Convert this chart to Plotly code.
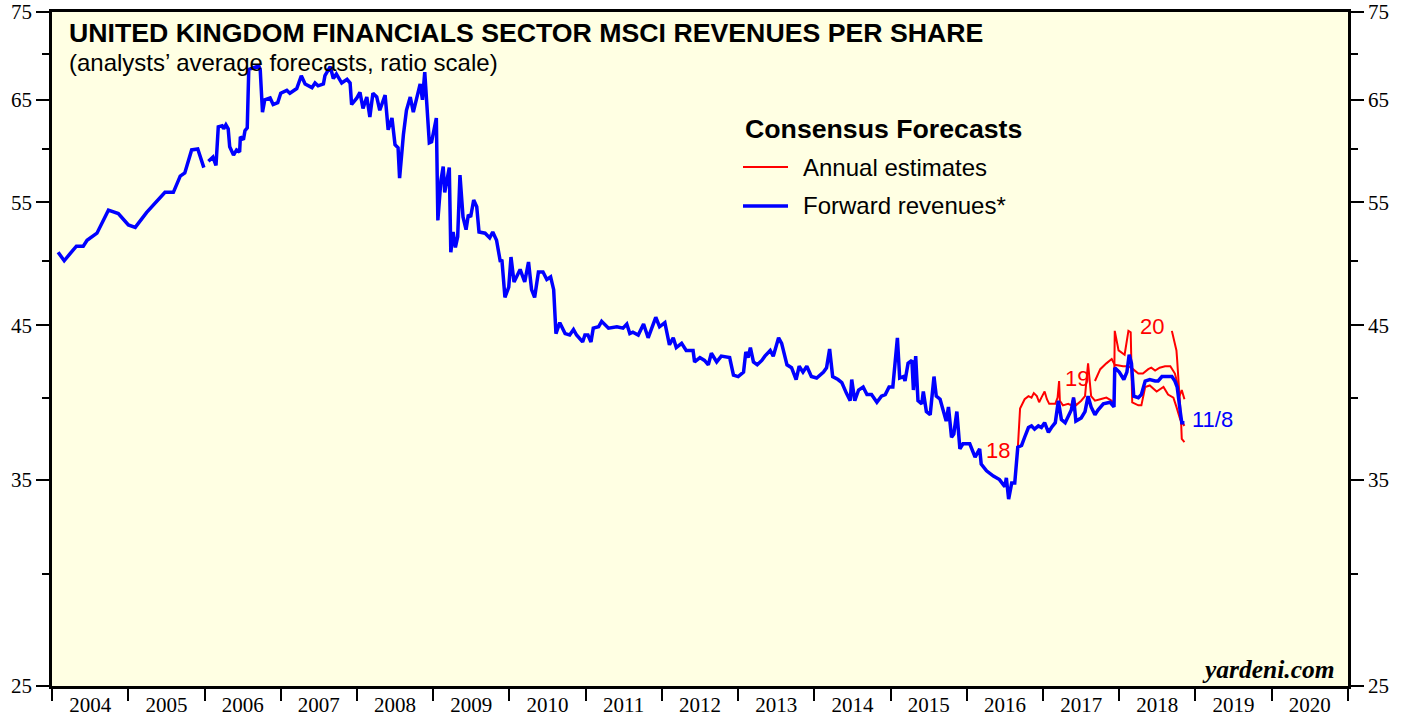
import datetime as dt
import math
import plotly.graph_objects as go

# ---------------- data (decimal years, revenues per share) ----------------
fwd_t = [2004.08, 2004.16, 2004.24, 2004.32, 2004.41, 2004.46, 2004.59, 2004.66, 2004.74, 2004.87,
         2005.00, 2005.09, 2005.24, 2005.48, 2005.59, 2005.68, 2005.74, 2005.83, 2005.91, 2005.99,
         2006.02,
         2006.05, 2006.11, 2006.15, 2006.18, 2006.23, 2006.25, 2006.28, 2006.31, 2006.33, 2006.38,
         2006.42, 2006.46, 2006.47, 2006.51, 2006.53, 2006.56, 2006.58, 2006.64, 2006.71, 2006.73,
         2006.76, 2006.79, 2006.86, 2006.90, 2006.96, 2007.00, 2007.08, 2007.12, 2007.21, 2007.27,
         2007.32, 2007.41, 2007.45, 2007.49, 2007.56, 2007.58, 2007.65, 2007.69, 2007.73, 2007.80,
         2007.87, 2007.91, 2007.93, 2008.00, 2008.04, 2008.08, 2008.13, 2008.17, 2008.21, 2008.26,
         2008.30, 2008.37, 2008.41, 2008.46, 2008.50, 2008.54, 2008.56, 2008.61, 2008.65, 2008.70,
         2008.74, 2008.83, 2008.86, 2008.89, 2008.95, 2008.98, 2009.04, 2009.06, 2009.10, 2009.13,
         2009.15, 2009.21, 2009.23, 2009.26, 2009.29, 2009.32, 2009.35, 2009.39, 2009.43, 2009.46,
         2009.49, 2009.53, 2009.57, 2009.60, 2009.68, 2009.74, 2009.78, 2009.83, 2009.88, 2009.90,
         2009.94, 2009.99, 2010.02, 2010.06, 2010.14, 2010.20, 2010.25, 2010.29, 2010.33, 2010.38,
         2010.44, 2010.49, 2010.54, 2010.58, 2010.61, 2010.66, 2010.73, 2010.79, 2010.84, 2010.88,
         2010.96, 2010.99, 2011.03, 2011.07, 2011.10, 2011.17, 2011.21, 2011.30, 2011.41, 2011.49,
         2011.54, 2011.58, 2011.62, 2011.69, 2011.76, 2011.82, 2011.87, 2011.92, 2011.97, 2012.04,
         2012.10, 2012.15, 2012.19, 2012.26, 2012.32, 2012.41, 2012.43, 2012.50, 2012.56, 2012.61,
         2012.65, 2012.72, 2012.78, 2012.89, 2012.94, 2013.00, 2013.07, 2013.10, 2013.13, 2013.16,
         2013.20, 2013.25, 2013.31, 2013.35, 2013.42, 2013.46, 2013.53, 2013.57, 2013.64, 2013.70,
         2013.76, 2013.80, 2013.85, 2013.90, 2013.96, 2014.03, 2014.12, 2014.16, 2014.20, 2014.24,
         2014.31, 2014.36, 2014.42, 2014.47, 2014.49, 2014.53, 2014.58, 2014.64, 2014.69, 2014.75,
         2014.82, 2014.88, 2014.93, 2014.98, 2015.03, 2015.09, 2015.12, 2015.17, 2015.19, 2015.23,
         2015.28, 2015.30, 2015.33, 2015.36, 2015.41, 2015.43, 2015.47, 2015.52, 2015.57, 2015.60,
         2015.65, 2015.69, 2015.73, 2015.76, 2015.80, 2015.83, 2015.87, 2015.91, 2015.95, 2016.04,
         2016.11, 2016.17, 2016.19, 2016.26, 2016.35, 2016.43, 2016.50, 2016.52, 2016.55, 2016.59,
         2016.63, 2016.67, 2016.72, 2016.76, 2016.81, 2016.85, 2016.89, 2016.94, 2016.98, 2017.02,
         2017.07, 2017.11, 2017.16, 2017.20, 2017.24, 2017.29, 2017.33, 2017.37, 2017.40, 2017.43,
         2017.50, 2017.55, 2017.59, 2017.63, 2017.68, 2017.72, 2017.79, 2017.88, 2017.93, 2017.94,
         2018.00, 2018.06, 2018.10, 2018.13, 2018.16, 2018.19, 2018.25, 2018.29, 2018.34, 2018.40,
         2018.47, 2018.51, 2018.56, 2018.62, 2018.69, 2018.73, 2018.76, 2018.80, 2018.82, 2018.855]
fwd_v = [50.7, 50.0, 50.6, 51.2, 51.2, 51.7, 52.3, 53.2, 54.3, 54.0,
         53.0, 52.8, 54.1, 55.9, 55.9, 57.4, 57.7, 59.9, 60.0, 58.2,
         None,
         58.8, 59.2, 58.4, 62.2, 62.3, 62.0, 62.4, 62.0, 60.2, 59.4,
         59.9, 59.7, 61.2, 60.9, 61.8, 62.1, 68.3, 68.5, 68.7, 68.3,
         63.7, 65.0, 65.2, 64.5, 64.7, 65.7, 66.0, 65.7, 66.2, 67.6,
         66.7, 66.3, 66.8, 66.5, 66.7, 67.6, 68.6, 67.3, 67.8, 66.8,
         67.2, 66.8, 64.5, 65.2, 65.8, 64.1, 65.3, 63.2, 65.7, 65.3,
         63.9, 65.5, 61.9, 63.1, 60.4, 60.1, 57.2, 61.4, 63.9, 65.3,
         63.7, 66.7, 65.0, 68.0, 60.6, 60.7, 63.1, 53.4, 57.0, 58.3,
         55.9, 58.2, 50.7, 52.4, 51.1, 52.0, 57.5, 53.7, 52.6, 53.9,
         53.7, 55.2, 54.6, 52.4, 52.3, 51.9, 52.4, 51.7, 49.9, 50.1,
         47.1, 47.9, 50.3, 48.3, 49.3, 48.3, 49.9, 47.7, 47.1, 49.1,
         49.1, 48.5, 48.7, 47.7, 44.4, 45.2, 44.4, 44.3, 44.7, 44.3,
         43.8, 44.3, 44.3, 43.8, 44.8, 44.9, 45.3, 44.8, 44.9, 44.8,
         45.1, 44.4, 44.5, 44.3, 45.1, 44.1, 44.8, 45.6, 44.9, 45.2,
         43.6, 44.1, 43.4, 43.7, 43.2, 43.2, 42.4, 42.7, 42.5, 42.2,
         43.0, 42.4, 42.8, 42.7, 41.5, 41.4, 41.7, 43.1, 42.7, 43.4,
         42.4, 42.2, 42.5, 42.8, 43.2, 42.8, 44.1, 43.7, 42.2, 42.0,
         41.2, 42.1, 41.7, 42.1, 41.4, 41.3, 41.7, 42.0, 43.3, 41.4,
         41.2, 41.0, 40.3, 39.8, 41.2, 39.8, 40.5, 40.7, 40.2, 40.2,
         39.7, 40.1, 40.2, 40.7, 40.7, 44.1, 41.3, 41.4, 41.1, 42.3,
         42.5, 40.5, 42.8, 39.8, 39.6, 40.4, 39.1, 38.9, 41.4, 40.1,
         39.9, 39.1, 38.5, 39.4, 37.5, 37.7, 39.1, 36.8, 37.1, 37.1,
         36.3, 36.8, 35.9, 35.5, 35.2, 35.0, 34.6, 35.1, 33.9, 34.8,
         34.8, 36.9, 37.0, 37.5, 38.1, 38.2, 38.0, 38.2, 38.1, 38.4,
         37.8, 38.1, 38.4, 39.8, 38.6, 38.4, 38.8, 39.2, 40.0, 38.5,
         38.7, 39.1, 40.1, 39.4, 38.9, 39.2, 39.6, 39.7, 39.4, 42.0,
         41.7, 41.2, 41.7, 42.9, 42.3, 40.1, 40.0, 40.2, 41.1, 41.2,
         41.1, 41.1, 41.4, 41.4, 41.4, 41.1, 40.7, 39.1, 38.4, 38.4]

est18_t = [2016.67, 2016.70, 2016.76, 2016.81, 2016.85, 2016.88, 2016.92, 2016.95, 2016.98, 2017.02,
           2017.05, 2017.08, 2017.16, 2017.19, 2017.21, 2017.22, 2017.26, 2017.33, 2017.37, 2017.40,
           2017.43, 2017.50, 2017.55, 2017.59, 2017.63, 2017.68, 2017.75, 2017.83, 2017.90, 2017.93,
           2017.94, 2017.99, 2018.07, 2018.12, 2018.15, 2018.17, 2018.25, 2018.29, 2018.34, 2018.40,
           2018.49, 2018.58, 2018.64, 2018.71, 2018.75, 2018.80, 2018.855]
est18_v = [36.8, 39.3, 39.9, 40.1, 40.0, 40.3, 40.1, 39.7, 40.0, 40.4,
           39.9, 39.6, 39.6, 40.0, 41.1, 39.8, 39.5, 39.6, 39.5, 40.0,
           39.5, 39.8, 40.1, 42.3, 40.1, 39.8, 39.9, 40.0, 39.8, 39.5,
           44.6, 43.2, 42.9, 44.6, 44.5, 39.7, 39.5, 39.5, 40.7, 40.8,
           40.4, 40.7, 40.2, 40.0, 39.4, 38.6, 38.2]

est19_t = [2017.68, 2017.75, 2017.83, 2017.90, 2017.94, 2018.05, 2018.12, 2018.18, 2018.25, 2018.31,
           2018.38, 2018.42, 2018.47, 2018.53, 2018.60, 2018.67, 2018.73, 2018.76, 2018.79, 2018.82,
           2018.855]
est19_v = [41.1, 41.9, 42.3, 42.6, 42.2, 42.1, 42.1, 41.9, 41.6, 41.6,
           41.9, 42.0, 41.8, 42.0, 42.1, 42.1, 41.6, 41.0, 40.1, 40.5,
           39.9]

est20_t = [2018.69, 2018.73, 2018.75, 2018.76, 2018.78, 2018.79, 2018.81, 2018.82, 2018.855]
est20_v = [44.6, 43.6, 43.2, 42.5, 41.0, 39.6, 38.6, 37.4, 37.2]

y_major = [25, 35, 45, 55, 65, 75]
y_minor = [30, 40, 50, 60, 70]


def to_date(t):
    y = int(t)
    return dt.datetime(y, 1, 1) + dt.timedelta(days=(t - y) * 365.25)


def dates(ts):
    return [to_date(t) for t in ts]


RED = "#FF0000"
BLUE = "#0000FF"
BG = "#FFFFE3"

fig = go.Figure()
for ts, vs in [(est18_t, est18_v), (est19_t, est19_v), (est20_t, est20_v)]:
    fig.add_trace(go.Scatter(x=dates(ts), y=vs, mode="lines",
                             line=dict(color=RED, width=2), showlegend=False,
                             hoverinfo="skip"))
fig.add_trace(go.Scatter(x=dates(fwd_t), y=fwd_v, mode="lines", connectgaps=False,
                         line=dict(color=BLUE, width=3.5), showlegend=False))
# invisible trace to activate right-hand axis
fig.add_trace(go.Scatter(x=dates(fwd_t), y=fwd_v, mode="lines", yaxis="y2",
                         line=dict(width=0), opacity=0, showlegend=False,
                         hoverinfo="skip"))

yr = [math.log10(25), math.log10(75)]
serif = "Liberation Serif, Times New Roman, serif"
tickfont = dict(family=serif, size=21, color="black")

yaxis_common = dict(type="log", range=yr,
                    tickvals=y_major, ticktext=[str(v) for v in y_major],
                    ticks="outside", ticklen=13, tickwidth=1.5, tickcolor="black",
                    minor=dict(tickvals=y_minor, ticks="outside", ticklen=7,
                               tickwidth=1.5, tickcolor="black", showgrid=False),
                    showline=True, linecolor="black", linewidth=2.5,
                    showgrid=False, zeroline=False, tickfont=tickfont,
                    automargin=False)

fig.update_layout(
    width=1407, height=717,
    margin=dict(l=52, r=59, t=12, b=31, autoexpand=False),
    paper_bgcolor="white",
    plot_bgcolor=BG,
    xaxis=dict(type="date",
               range=[dt.datetime(2004, 1, 1), dt.datetime(2021, 1, 1)],
               tick0="2004-01-01", dtick="M12", tickformat="%Y",
               ticklabelmode="period", ticklabelstandoff=-14,
               ticks="outside", ticklen=12, tickwidth=2, tickcolor="black",
               showline=True, linecolor="black", linewidth=2.5, mirror=True,
               showgrid=False, zeroline=False, tickfont=tickfont,
               automargin=False),
    yaxis=yaxis_common,
    yaxis2=dict(yaxis_common, overlaying="y", side="right"),
)

PX0, PY0, PW, PH = 52, 686, 1296, 674  # plot-area frame in page pixels


def px(x):
    return (x - PX0) / PW


def py(y):
    return (PY0 - y) / PH


sans = "Liberation Sans, Arial, Helvetica, sans-serif"
ann = [
    ("<b>UNITED KINGDOM FINANCIALS SECTOR MSCI REVENUES PER SHARE</b>", 67, 33, 26.7),
    ("(analysts\u2019 average forecasts, ratio scale)", 67, 62, 24),
    ("<b>Consensus Forecasts</b>", 743, 129, 26.7),
    ("Annual estimates", 801, 167, 24),
    ("Forward revenues*", 801, 206, 24),
]
for text, ax, ay, size in ann:
    fig.add_annotation(text=text, xref="paper", yref="paper",
                       x=px(ax), y=py(ay),
                       xanchor="left", yanchor="middle", showarrow=False,
                       font=dict(family=sans, color="black", size=size))

fig.add_annotation(text="<b><i>yardeni.com</i></b>", xref="paper", yref="paper",
                   x=px(1337), y=py(669), xanchor="right",
                   yanchor="middle", showarrow=False,
                   font=dict(family=serif, size=25.5, color="black"))

# legend line samples
fig.add_shape(type="line", xref="paper", yref="paper",
              x0=px(743), x1=px(788), y0=py(167), y1=py(167),
              line=dict(color=RED, width=2))
fig.add_shape(type="line", xref="paper", yref="paper",
              x0=px(743), x1=px(788), y0=py(206), y1=py(206),
              line=dict(color=BLUE, width=3.5))

# series labels
labels = [("18", 2016.41, 36.7, RED), ("19", 2017.45, 41.3, RED),
          ("20", 2018.43, 44.9, RED), ("11/8", 2019.22, 38.6, BLUE)]
for txt, t, v, c in labels:
    fig.add_annotation(text=txt, x=to_date(t), y=math.log10(v), xref="x", yref="y",
                       showarrow=False, xanchor="center", yanchor="middle",
                       font=dict(family=sans, size=22, color=c))

# remove the browser's default 8px body margin so the figure sits at the page origin
fig.write_html("out.html",
               config={"displayModeBar": False},
               post_script="document.body.style.margin='0';document.body.style.overflow='hidden';")
